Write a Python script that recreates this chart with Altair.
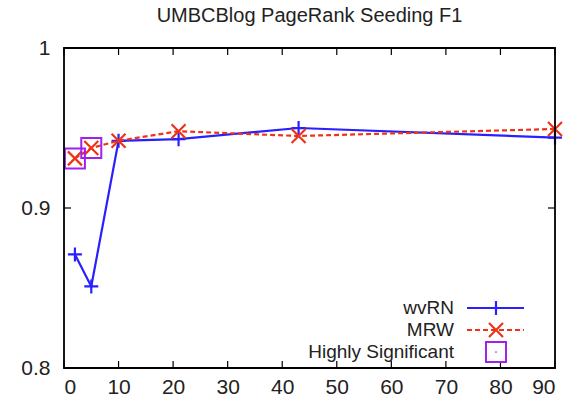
import altair as alt
import pandas as pd

# ---- data ----
seeds = [2, 5, 10, 21, 43, 90]
wvrn = [0.871, 0.851, 0.942, 0.943, 0.950, 0.944]
mrw = [0.931, 0.9375, 0.942, 0.948, 0.945, 0.9494]
sig_x = [2, 5]
sig_y = [0.931, 0.9375]
x_ticks = [0, 10, 20, 30, 40, 50, 60, 70, 80, 90]
y_ticks = [0.8, 0.9, 1.0]
legend_labels = ["wvRN", "MRW", "Highly Significant"]

W, H = 491, 320
FONT = "Liberation Sans"
BLUE = "#2a1fff"
RED = "#ee3318"
PURPLE = "#a020f0"
TXT = "#222"
LFS = 21
LEGFS = 19

PLUS = "M-1,0L1,0M0,-1L0,1"
CROSS = "M-1,-1L1,1M-1,1L1,-1"

df_w = pd.DataFrame({"x": seeds, "y": wvrn})
df_m = pd.DataFrame({"x": seeds, "y": mrw})
df_s = pd.DataFrame({"x": sig_x, "y": sig_y})
df_xt = pd.DataFrame({"x": x_ticks})
df_yt = pd.DataFrame({"y": y_ticks})

xs = alt.Scale(domain=[0, 90], nice=False)
ys = alt.Scale(domain=[0.8, 1.0], nice=False, zero=False)

xaxis = alt.Axis(values=x_ticks, title=None, domain=False, ticks=False, grid=False,
                 labelFontSize=LFS, labelFont=FONT, labelColor=TXT, labelPadding=8)
yaxis = alt.Axis(values=y_ticks, title=None, domain=False, ticks=False, grid=False,
                 format="~g", labelFontSize=LFS, labelFont=FONT, labelColor=TXT,
                 labelPadding=14)

X = alt.X("x:Q", scale=xs, axis=xaxis)
Y = alt.Y("y:Q", scale=ys, axis=yaxis)

# inward ticks on all four sides
tick_b = alt.Chart(df_xt).mark_rule(color="#000", strokeWidth=1.2).encode(
    x=X, y=alt.value(H), y2=alt.value(H - 7))
tick_t = alt.Chart(df_xt).mark_rule(color="#000", strokeWidth=1.2).encode(
    x=X, y=alt.value(0), y2=alt.value(7))
tick_l = alt.Chart(df_yt).mark_rule(color="#000", strokeWidth=1.2).encode(
    y=Y, x=alt.value(0), x2=alt.value(7))
tick_r = alt.Chart(df_yt).mark_rule(color="#000", strokeWidth=1.2).encode(
    y=Y, x=alt.value(W), x2=alt.value(W - 7))

one = pd.DataFrame({"t": [0]})
frame = alt.Chart(one).mark_rect(fill=None, stroke="#000", strokeWidth=1.8).encode(
    x=alt.value(0), x2=alt.value(W), y=alt.value(0), y2=alt.value(H))

w_line = alt.Chart(df_w).mark_line(color=BLUE, strokeWidth=2.2).encode(x=X, y=Y)
w_pts = alt.Chart(df_w).mark_point(shape=PLUS, size=196, filled=False, color=BLUE,
                                   strokeWidth=2.2, opacity=1).encode(x=X, y=Y)
m_line = alt.Chart(df_m).mark_line(color=RED, strokeWidth=2.2, strokeDash=[5, 3]).encode(x=X, y=Y)
m_pts = alt.Chart(df_m).mark_point(shape=CROSS, size=196, filled=False, color=RED,
                                   strokeWidth=2.2, opacity=1).encode(x=X, y=Y)
s_pts = alt.Chart(df_s).mark_point(shape="square", size=400, filled=False, color=PURPLE,
                                   strokeWidth=2, opacity=1).encode(x=X, y=Y)

# manual legend (bottom-right inside plot)
LX_TEXT, LX1, LX2, LXM = 390, 403, 460, 432
rows = [260, 282, 304]
leg = []
for lab, ry in zip(legend_labels, rows):
    leg.append(alt.Chart(pd.DataFrame({"t": [lab]})).mark_text(
        align="right", baseline="middle", fontSize=LEGFS, font=FONT, color=TXT).encode(
        x=alt.value(LX_TEXT), y=alt.value(ry), text="t:N"))
leg.append(alt.Chart(one).mark_rule(color=BLUE, strokeWidth=2.2).encode(
    x=alt.value(LX1), x2=alt.value(LX2), y=alt.value(rows[0])))
leg.append(alt.Chart(one).mark_point(shape=PLUS, size=196, filled=False, color=BLUE,
                                     strokeWidth=2.2, opacity=1).encode(
    x=alt.value(LXM), y=alt.value(rows[0])))
leg.append(alt.Chart(one).mark_rule(color=RED, strokeWidth=2.2, strokeDash=[5, 3]).encode(
    x=alt.value(LX1), x2=alt.value(LX2), y=alt.value(rows[1])))
leg.append(alt.Chart(one).mark_point(shape=CROSS, size=196, filled=False, color=RED,
                                     strokeWidth=2.2, opacity=1).encode(
    x=alt.value(LXM), y=alt.value(rows[1])))
leg.append(alt.Chart(one).mark_point(shape="square", size=400, filled=False, color=PURPLE,
                                     strokeWidth=2, opacity=1).encode(
    x=alt.value(LXM), y=alt.value(rows[2])))
leg.append(alt.Chart(one).mark_point(shape="circle", size=3, filled=True, color=PURPLE,
                                     opacity=1).encode(
    x=alt.value(LXM), y=alt.value(rows[2])))

chart = alt.layer(
    w_line, w_pts, m_line, m_pts, s_pts, tick_b, tick_t, tick_l, tick_r, frame, *leg
).properties(
    width=W, height=H,
    title=alt.TitleParams("UMBCBlog PageRank Seeding F1", fontSize=20, font=FONT,
                          fontWeight="normal", color=TXT, anchor="middle", offset=11),
    autosize=alt.AutoSizeParams(type="none"),
    padding={"left": 64, "top": 48, "right": 22, "bottom": 34},
).configure_view(stroke=None).configure(background="white")

chart.save("out.html", embed_options={"renderer": "svg", "actions": False})
